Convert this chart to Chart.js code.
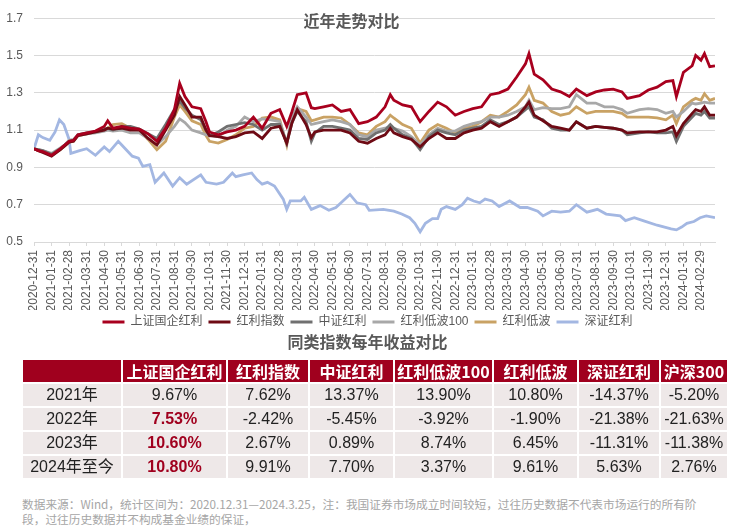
<!DOCTYPE html>
<html>
<head>
<meta charset="utf-8">
<script src="https://cdn.jsdelivr.net/npm/chart.js@4.4.1/dist/chart.umd.min.js"></script>
<style>
body { margin: 0; background: #fff; width: 739px; height: 530px; overflow: hidden; position: relative;
       font-family: "Liberation Sans", "Noto Sans CJK SC", sans-serif; }
#wrap { position: absolute; left: 0; top: 0; width: 739px; height: 338px; }
.ttl { position: absolute; left: 0; font: bold 16px "Noto Sans CJK SC", sans-serif; color: #595959; text-align: center; line-height: 22px; }
#t1 { width: 703px; top: 9px; }
#t2 { width: 735px; top: 330px; }
table { position: absolute; left: 21px; top: 358px; border-collapse: collapse; table-layout: fixed; }
th, td { border: 2px solid #fff; height: 22px; line-height: 22px; padding: 0; text-align: center; font-size: 16px; white-space: nowrap; }
th { background: #A0001E; color: #fff; font-weight: bold; font-family: "Noto Sans CJK SC", sans-serif; }
td { background: #EEE8E8; color: #222; }
td.hl { color: #A0001E; font-weight: bold; }
#note { position: absolute; left: 22px; top: 496px; font: 11.7px "Noto Sans CJK SC", sans-serif; color: #a6a6a6; line-height: 15px; white-space: nowrap; }
</style>
</head>
<body>
<div id="wrap"><canvas id="trend"></canvas></div>
<div class="ttl" id="t1">近年走势对比</div>
<div class="ttl" id="t2">同类指数每年收益对比</div>
<table id="ret"></table>
<div id="note">数据来源：Wind，统计区间为：2020.12.31—2024.3.25，注：我国证券市场成立时间较短，过往历史数据不代表市场运行的所有阶<br>段，过往历史数据并不构成基金业绩的保证，</div>
<script>
const monthLabels = [
    '2020-12-31', '2021-01-31', '2021-02-28', '2021-03-31', '2021-04-30', '2021-05-31', '2021-06-30',
    '2021-07-31', '2021-08-31', '2021-09-30', '2021-10-31', '2021-11-30', '2021-12-31', '2022-01-31',
    '2022-02-28', '2022-03-31', '2022-04-30', '2022-05-31', '2022-06-30', '2022-07-31', '2022-08-31',
    '2022-09-30', '2022-10-31', '2022-11-30', '2022-12-31', '2023-01-31', '2023-02-28', '2023-03-31',
    '2023-04-30', '2023-05-31', '2023-06-30', '2023-07-31', '2023-08-31', '2023-09-30', '2023-10-31',
    '2023-11-30', '2023-12-31', '2024-01-31', '2024-02-29'
];
const yTicks = [0.5, 0.7, 0.9, 1.1, 1.3, 1.5, 1.7];

// sample positions in months since 2020-12-31
const samplePos = [
    0, 0.25, 0.5, 1, 1.5, 1.75, 2, 2.25, 2.5, 3, 3.5, 4, 4.2, 4.5, 5, 5.5, 6, 6.5, 7, 7.5,
    8, 8.3, 8.6, 9, 9.5, 9.8, 10, 10.5, 11, 11.5, 12, 12.5, 13, 13.5, 14, 14.4, 14.7, 15, 15.5, 15.8,
    16, 16.5, 17, 17.5, 18, 18.5, 19, 19.5, 20, 20.3, 20.5, 21, 21.5, 22, 22.5, 23, 23.5, 24, 24.5, 25,
    25.5, 26, 26.5, 27, 27.5, 28, 28.2, 28.5, 29, 29.5, 30, 30.5, 30.9, 31.5, 32, 32.5, 33, 33.5, 33.8, 34.5,
    35, 35.5, 36, 36.4, 36.6, 37, 37.5, 37.7, 38, 38.2, 38.5, 38.8
];

const sseSoe = [
    1.00, 0.99, 0.985, 0.965, 1.00, 1.02, 1.04, 1.045, 1.075, 1.085,
    1.095, 1.12, 1.15, 1.11, 1.12, 1.11, 1.105, 1.08, 1.04, 1.11,
    1.21, 1.35, 1.28, 1.225, 1.215, 1.145, 1.09, 1.075, 1.09, 1.10,
    1.12, 1.17, 1.11, 1.19, 1.21, 1.12, 1.20, 1.29, 1.30, 1.22,
    1.215, 1.225, 1.235, 1.20, 1.21, 1.135, 1.145, 1.17, 1.225, 1.29,
    1.26, 1.235, 1.225, 1.145, 1.20, 1.25, 1.225, 1.18, 1.20, 1.215,
    1.225, 1.29, 1.30, 1.32, 1.385, 1.455, 1.51, 1.40, 1.37, 1.32,
    1.305, 1.28, 1.32, 1.285, 1.305, 1.315, 1.32, 1.305, 1.27, 1.285,
    1.315, 1.33, 1.36, 1.365, 1.28, 1.41, 1.445, 1.50, 1.475, 1.51,
    1.44, 1.445
];
const dividendIdx = [
    1.00, 0.99, 0.98, 0.96, 0.995, 1.015, 1.035, 1.04, 1.07, 1.08,
    1.09, 1.10, 1.11, 1.105, 1.11, 1.10, 1.10, 1.055, 1.02, 1.10,
    1.18, 1.28, 1.235, 1.17, 1.17, 1.10, 1.07, 1.065, 1.055, 1.065,
    1.085, 1.09, 1.055, 1.11, 1.12, 1.03, 1.14, 1.21, 1.13, 1.06,
    1.09, 1.10, 1.10, 1.10, 1.085, 1.04, 1.03, 1.055, 1.075, 1.11,
    1.085, 1.065, 1.05, 1.01, 1.055, 1.085, 1.055, 1.055, 1.085, 1.10,
    1.11, 1.145, 1.12, 1.145, 1.17, 1.225, 1.25, 1.18, 1.15, 1.12,
    1.11, 1.10, 1.145, 1.11, 1.12, 1.115, 1.11, 1.10, 1.085, 1.09,
    1.09, 1.09, 1.10, 1.12, 1.07, 1.135, 1.19, 1.21, 1.20, 1.225,
    1.18, 1.18
];
const csiDividend = [
    1.00, 0.995, 0.99, 0.97, 1.00, 1.02, 1.04, 1.045, 1.075, 1.085,
    1.09, 1.105, 1.11, 1.10, 1.12, 1.12, 1.105, 1.08, 1.055, 1.13,
    1.21, 1.255, 1.22, 1.18, 1.155, 1.10, 1.07, 1.09, 1.12, 1.13,
    1.14, 1.13, 1.10, 1.13, 1.13, 1.03, 1.14, 1.20, 1.145, 1.04,
    1.085, 1.12, 1.12, 1.11, 1.10, 1.055, 1.05, 1.085, 1.10, 1.13,
    1.11, 1.075, 1.055, 0.995, 1.065, 1.10, 1.085, 1.075, 1.10, 1.11,
    1.12, 1.155, 1.13, 1.145, 1.17, 1.21, 1.225, 1.17, 1.155, 1.11,
    1.10, 1.10, 1.145, 1.11, 1.12, 1.115, 1.11, 1.10, 1.075, 1.085,
    1.09, 1.085, 1.085, 1.09, 1.04, 1.12, 1.17, 1.19, 1.18, 1.20,
    1.165, 1.165
];
const lowVol100 = [
    1.00, 0.995, 0.99, 0.975, 1.005, 1.02, 1.045, 1.05, 1.07, 1.08,
    1.085, 1.095, 1.10, 1.095, 1.10, 1.085, 1.085, 1.055, 1.02, 1.065,
    1.12, 1.16, 1.14, 1.10, 1.085, 1.075, 1.075, 1.065, 1.10, 1.12,
    1.17, 1.145, 1.16, 1.155, 1.145, 1.03, 1.17, 1.225, 1.17, 1.13,
    1.135, 1.145, 1.155, 1.145, 1.13, 1.075, 1.065, 1.10, 1.11, 1.12,
    1.11, 1.095, 1.065, 1.02, 1.075, 1.11, 1.095, 1.095, 1.12, 1.135,
    1.145, 1.17, 1.17, 1.18, 1.20, 1.225, 1.26, 1.21, 1.22, 1.215,
    1.215, 1.225, 1.29, 1.245, 1.245, 1.225, 1.225, 1.21, 1.19, 1.21,
    1.215, 1.21, 1.19, 1.20, 1.17, 1.20, 1.245, 1.24, 1.245, 1.25,
    1.245, 1.245
];
const lowVol = [
    1.00, 0.99, 0.985, 0.965, 0.995, 1.015, 1.035, 1.04, 1.07, 1.08,
    1.09, 1.10, 1.11, 1.13, 1.135, 1.11, 1.10, 1.05, 0.995, 1.04,
    1.17, 1.235, 1.20, 1.15, 1.13, 1.07, 1.04, 1.03, 1.05, 1.075,
    1.11, 1.12, 1.165, 1.17, 1.155, 1.02, 1.17, 1.215, 1.20, 1.15,
    1.155, 1.17, 1.17, 1.165, 1.13, 1.085, 1.075, 1.12, 1.145, 1.18,
    1.165, 1.13, 1.11, 1.03, 1.10, 1.13, 1.11, 1.085, 1.11, 1.12,
    1.145, 1.18, 1.17, 1.20, 1.235, 1.29, 1.33, 1.26, 1.245, 1.20,
    1.18, 1.19, 1.225, 1.19, 1.20, 1.20, 1.20, 1.19, 1.17, 1.17,
    1.17, 1.165, 1.155, 1.18, 1.135, 1.225, 1.26, 1.27, 1.26, 1.295,
    1.26, 1.27
];

// 深证红利 moves on its own, so it has its own sample positions
const szPos = [
    0, 0.25, 0.5, 0.9, 1.2, 1.45, 1.7, 2, 2.1, 2.6, 3, 3.5, 4, 4.3, 4.8, 5, 5.6, 5.95, 6.2, 6.6,
    6.9, 7.4, 7.9, 8.3, 8.7, 9.5, 9.8, 10.4, 10.8, 11.3, 11.5, 11.9, 12.4, 12.7, 13, 13.3, 13.7, 14.2, 14.4, 14.6,
    15.2, 15.4, 15.8, 16.3, 16.8, 17.2, 17.6, 18, 18.4, 18.9, 19.1, 19.9, 20.5, 20.95, 21.4, 21.7, 22, 22.3, 22.7, 23,
    23.2, 23.5, 24, 24.4, 24.7, 25.05, 25.4, 25.7, 26.1, 26.5, 27.1, 27.7, 28.1, 28.7, 29, 29.5, 30, 30.5, 30.9, 31.5,
    32.1, 32.6, 33.4, 33.7, 34.2, 34.7, 35.5, 36.3, 36.6, 36.9, 37.2, 37.6, 37.95, 38.3, 38.8
];
const szDividend = [
    1.00, 1.075, 1.06, 1.045, 1.09, 1.155, 1.13, 1.05, 0.975, 0.99, 1.00, 0.965, 1.01, 0.985, 1.04, 1.02, 0.96, 0.95, 0.905, 0.915,
    0.82, 0.87, 0.80, 0.845, 0.81, 0.86, 0.82, 0.81, 0.82, 0.87, 0.85, 0.86, 0.87, 0.835, 0.81, 0.82, 0.80, 0.73, 0.675, 0.72,
    0.72, 0.74, 0.675, 0.695, 0.67, 0.685, 0.72, 0.755, 0.71, 0.70, 0.67, 0.675, 0.665, 0.65, 0.63, 0.60, 0.555, 0.60, 0.625, 0.625,
    0.675, 0.69, 0.675, 0.70, 0.735, 0.72, 0.71, 0.73, 0.72, 0.69, 0.72, 0.685, 0.685, 0.665, 0.64, 0.665, 0.66, 0.665, 0.70, 0.66,
    0.675, 0.65, 0.64, 0.615, 0.63, 0.615, 0.59, 0.57, 0.565, 0.58, 0.60, 0.61, 0.63, 0.64, 0.63
];

const tableHeads = ['', '上证国企红利', '红利指数', '中证红利', '红利低波100', '红利低波', '深证红利', '沪深300'];
const tableYears = ['2021年', '2022年', '2023年', '2024年至今'];
const yearReturns = [
    [9.67, 7.62, 13.37, 13.90, 10.80, -14.37, -5.20],
    [7.53, -2.42, -5.45, -3.92, -1.90, -21.38, -21.63],
    [10.60, 2.67, 0.89, 8.74, 6.45, -11.31, -11.38],
    [10.80, 9.91, 7.70, 3.37, 9.61, 5.63, 2.76],
];

document.addEventListener('DOMContentLoaded', () => {
    createTrendChart();
    createReturnTable();
});

function toPoints(pos, vals) {
    return vals.map((v, i) => ({ x: pos[i], y: v }));
}

// legend sits a bit right of the canvas centre in the original
const legendShift = {
    id: 'legendShift',
    afterLayout(chart) {
        if (chart.legend) chart.legend.left += 20;
    }
};

function createTrendChart() {
    const ctx = document.getElementById('trend');
    Chart.defaults.font.family = '"Liberation Sans", "Noto Sans CJK SC", sans-serif';
    Chart.defaults.color = '#595959';

    const series = [
        { label: '上证国企红利', pos: samplePos, data: sseSoe, color: '#A8001E' },
        { label: '红利指数', pos: samplePos, data: dividendIdx, color: '#6E0A14' },
        { label: '中证红利', pos: samplePos, data: csiDividend, color: '#707070' },
        { label: '红利低波100', pos: samplePos, data: lowVol100, color: '#A8A8A8' },
        { label: '红利低波', pos: samplePos, data: lowVol, color: '#C9A264' },
        { label: '深证红利', pos: szPos, data: szDividend, color: '#A3B7E2' },
    ];

    new Chart(ctx, {
        type: 'line',
        data: {
            datasets: series.map(s => ({
                label: s.label,
                data: toPoints(s.pos, s.data),
                borderColor: s.color,
                backgroundColor: s.color,
                borderWidth: 2.8,
                pointRadius: 0,
                tension: 0,
            }))
        },
        plugins: [legendShift],
        options: {
            responsive: true,
            maintainAspectRatio: false,
            animation: false,
            layout: { padding: { left: 0, right: 24, top: 12, bottom: 0 } },
            scales: {
                x: {
                    type: 'linear',
                    min: 0,
                    max: 38.8,
                    afterFit: (scale) => { scale.height = 68; },
                    grid: { drawOnChartArea: false, drawTicks: true, tickLength: 4, color: '#d9d9d9' },
                    border: { color: '#d9d9d9' },
                    ticks: {
                        stepSize: 1,
                        includeBounds: false,
                        autoSkip: false,
                        minRotation: 90,
                        maxRotation: 90,
                        padding: 4,
                        font: { size: 12 },
                        callback: (value) => monthLabels[value] ?? ''
                    }
                },
                y: {
                    min: 0.5,
                    max: 1.7,
                    afterFit: (scale) => { scale.width = 34; },
                    afterBuildTicks: (scale) => { scale.ticks = yTicks.map(v => ({ value: v })); },
                    grid: { color: '#d9d9d9', drawTicks: false },
                    border: { display: false },
                    ticks: {
                        padding: 11,
                        font: { size: 12 },
                        callback: (value) => value.toFixed(1)
                    }
                }
            },
            plugins: {
                legend: {
                    position: 'bottom',
                    labels: {
                        boxWidth: 22,
                        boxHeight: 3,
                        padding: 6,
                        color: '#595959',
                        font: { size: 12 },
                        generateLabels: (chart) => Chart.defaults.plugins.legend.labels.generateLabels(chart)
                            .map(item => ({ ...item, lineWidth: 0 }))
                    }
                },
                tooltip: { enabled: false }
            }
        }
    });
}

function createReturnTable() {
    const table = document.getElementById('ret');
    const widths = [100, 105, 82, 85, 99, 85, 82, 68];

    const colgroup = document.createElement('colgroup');
    widths.forEach(w => {
        const col = document.createElement('col');
        col.style.width = w + 'px';
        colgroup.appendChild(col);
    });
    table.appendChild(colgroup);

    const head = document.createElement('tr');
    tableHeads.forEach(h => {
        const th = document.createElement('th');
        th.textContent = h;
        head.appendChild(th);
    });
    table.appendChild(head);

    tableYears.forEach((year, r) => {
        const tr = document.createElement('tr');
        const first = document.createElement('td');
        first.textContent = year;
        tr.appendChild(first);
        yearReturns[r].forEach((v, c) => {
            const td = document.createElement('td');
            td.textContent = v.toFixed(2) + '%';
            if (c === 0 && r > 0) td.className = 'hl';
            tr.appendChild(td);
        });
        table.appendChild(tr);
    });
}
</script>
</body>
</html>
